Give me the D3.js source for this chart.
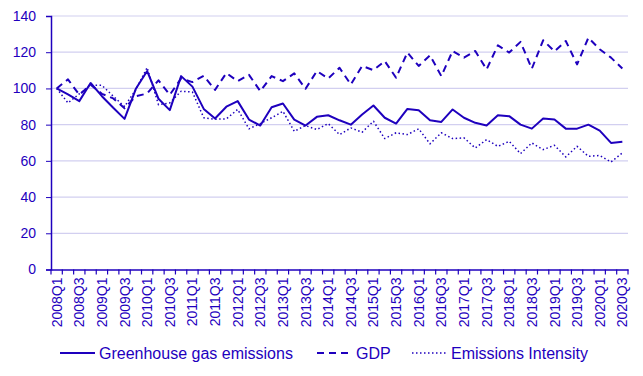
<!DOCTYPE html>
<html>
<head>
<meta charset="utf-8">
<script src="https://cdn.jsdelivr.net/npm/d3@7"></script>
<style>
  body { margin: 0; background: #fff; }
  svg { font-family: Arial, "Liberation Sans", sans-serif; }
</style>
</head>
<body>
<div id="viz"></div>
<script>
var BLUE = '#1e00be'

// quarters 2008Q1 .. 2020Q3
var quarters = []
for (var yr = 2008; yr <= 2020; yr++) {
  for (var q = 1; q <= 4; q++) {
    if (yr == 2020 && q > 3) break
    quarters.push(yr + 'Q' + q)
  }
}

var ghg = [100, 96.7, 93, 103, 95.7, 89.3, 83.2, 99.8, 109.6, 94.3, 88, 106.8, 101, 88.7, 83.4, 89.9, 93,
  82.8, 79.5, 89.6, 91.7, 82.8, 79.5, 84.3, 85.2, 82.4, 80, 85.6, 90.6, 83.8, 80.6, 88.7, 88, 82.4,
  81.5, 88.4, 83.8, 81, 79.5, 85.2, 84.7, 80, 77.8, 83.4, 82.8, 77.8, 77.8, 80, 76.7, 69.9, 70.6]

var gdp = [100, 105, 96.5, 102, 97, 94.5, 89, 95.7, 97.2, 104.5, 96.5, 105.5, 103.5, 107, 99.2, 108.5, 104,
  107.5, 98.5, 106.8, 104, 108.3, 99.8, 109.6, 105.5, 111.4, 102.2, 112.4, 110.1, 115.1, 105.9, 119.8,
  112.4, 118.3, 106.8, 120.7, 117, 120.7, 110.5, 123.8, 119.8, 125.7, 110.9, 126.6, 120.5, 126.2, 113.3,
  128, 121.6, 117, 111]

var intensity = [100, 92, 97, 101.7, 101.7, 95.7, 90, 99.4, 111.5, 91, 92, 98.5, 98, 83.8, 83, 83.2, 88.4,
  77.7, 80.6, 83.8, 87.4, 76.3, 79.5, 77.3, 80.6, 74.5, 78.2, 75.8, 81.9, 72.3, 75.5, 74.5, 77.7, 69.4,
  75.5, 72.3, 72.7, 67.1, 71.7, 68, 70.8, 64, 69.9, 66.2, 68.6, 62.2, 68, 62.5, 63, 59.4, 64.4]

var yTicks = [0, 20, 40, 60, 80, 100, 120, 140]

var series = [
  {name: 'Greenhouse gas emissions', values: ghg, dash: null, width: 2},
  {name: 'GDP', values: gdp, dash: '7,5', width: 2},
  {name: 'Emissions Intensity', values: intensity, dash: '1.5,2.5', width: 1.5}
]

var w = 643, h = 376

var svg = d3.select('#viz')
            .append('svg')
            .attr('width', w)
            .attr('height', h)

var x = d3.scaleBand()
  .domain(quarters)
  .range([51, 628])

var y = d3.scaleLinear()
  .domain([0, 140])
  .range([269.5, 16])

// gridlines
svg.append('g')
  .selectAll('line')
  .data(yTicks.filter(d => d > 0))
  .enter()
  .append('line')
  .attr('x1', 51)
  .attr('x2', 628)
  .attr('y1', d => y(d))
  .attr('y2', d => y(d))
  .attr('stroke', '#d2cff0')
  .attr('stroke-width', 1.2)

// y axis
var yAxis = d3.axisLeft(y).tickValues(yTicks).tickSize(5).tickPadding(10)
var yg = svg.append('g')
  .attr('transform', 'translate(51,0)')
  .call(yAxis)
yg.select('.domain').attr('stroke', BLUE).attr('stroke-width', 1.5)
yg.selectAll('.tick line').attr('stroke', BLUE)
yg.selectAll('text')
  .attr('fill', BLUE)
  .style('font-size', '14px')

// x axis
var xAxis = d3.axisBottom(x)
  .tickValues(quarters.filter((d, i) => i % 2 == 0))
  .tickSize(0)
var xg = svg.append('g')
  .attr('transform', 'translate(0,' + y(0) + ')')
  .call(xAxis)
xg.select('.domain').attr('stroke', BLUE).attr('stroke-width', 1.5)
xg.selectAll('text')
  .attr('fill', BLUE)
  .style('font-size', '14px')
  .attr('text-anchor', 'end')
  .attr('transform', 'rotate(-90)')
  .attr('x', -8)
  .attr('y', 0)
  .attr('dy', '0.36em')

// ticks at the category boundaries
var bounds = quarters.map(d => x(d)).concat([x.range()[1]])
xg.selectAll('.bound')
  .data(bounds)
  .enter()
  .append('line')
  .attr('class', 'bound')
  .attr('x1', d => d)
  .attr('x2', d => d)
  .attr('y1', 0)
  .attr('y2', 5)
  .attr('stroke', BLUE)
  .attr('stroke-width', 1.2)

// lines
var line = d3.line()
  .x((d, i) => x(quarters[i]) + x.bandwidth() / 2)
  .y(d => y(d))

svg.append('g')
  .selectAll('path')
  .data(series)
  .enter()
  .append('path')
  .attr('d', d => line(d.values))
  .attr('fill', 'none')
  .attr('stroke', BLUE)
  .attr('stroke-width', d => d.width)
  .attr('stroke-dasharray', d => d.dash)
  .attr('stroke-linejoin', 'round')

// legend
var legendPos = [{x1: 60, x2: 95}, {x1: 317, x2: 352}, {x1: 412, x2: 447}]
var legend = svg.append('g').attr('transform', 'translate(0,353)')
var items = legend.selectAll('g')
  .data(series)
  .enter()
  .append('g')

items.append('line')
  .attr('x1', (d, i) => legendPos[i].x1)
  .attr('x2', (d, i) => legendPos[i].x2)
  .attr('y1', 0)
  .attr('y2', 0)
  .attr('stroke', BLUE)
  .attr('stroke-width', d => d.width)
  .attr('stroke-dasharray', d => d.dash)

items.append('text')
  .attr('x', (d, i) => legendPos[i].x2 + 4)
  .attr('y', 0)
  .attr('dy', '0.35em')
  .attr('fill', BLUE)
  .style('font-size', '16px')
  .text(d => d.name)
</script>
</body>
</html>
